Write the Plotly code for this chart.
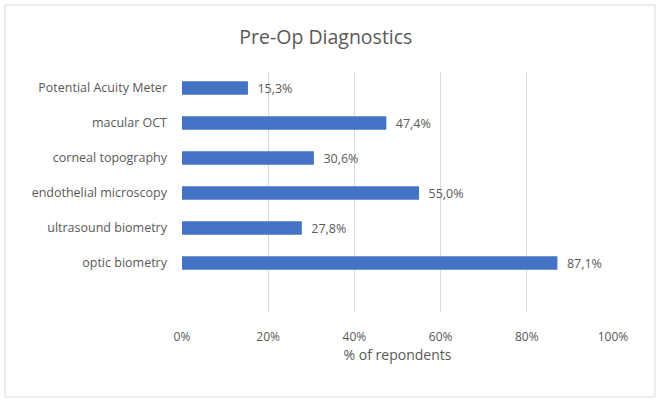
import plotly.graph_objects as go

categories = ["optic biometry", "ultrasound biometry", "endothelial microscopy",
              "corneal topography", "macular OCT", "Potential Acuity Meter"]
values = [87.1, 27.8, 55.0, 30.6, 47.4, 15.3]
tick_vals = [0, 20, 40, 60, 80, 100]
tick_text = ["0%", "20%", "40%", "60%", "80%", "100%"]
labels = ["\u00a0\u00a0" + f"{v:.1f}%".replace(".", ",") for v in values]

FONT = "'Open Sans', sans-serif"
GRAY = "#595959"

fig = go.Figure(go.Bar(
    x=values, y=categories, orientation="h",
    marker=dict(color="#4472C4", line=dict(width=0)),
    width=0.38,
    text=labels, textposition="outside", constraintext="none",
    textfont=dict(family=FONT, size=12.5, color=GRAY),
    cliponaxis=False,
))

fig.update_layout(
    width=661, height=403,
    margin=dict(l=182, r=48, t=72, b=91),
    paper_bgcolor="white", plot_bgcolor="white",
    showlegend=False,
    title=dict(text="Pre-Op Diagnostics", x=0.493, xanchor="center",
               y=0.908, yanchor="middle",
               font=dict(family=FONT, size=19.5, color=GRAY)),
    xaxis=dict(range=[0, 100], tickvals=tick_vals, ticktext=tick_text,
               showgrid=True, gridcolor="#d9d9d9", gridwidth=1,
               zeroline=False, showline=False, ticks="",
               ticklabelstandoff=16,
               tickfont=dict(family=FONT, size=12, color=GRAY),
               title=dict(text="% of repondents", standoff=6,
                          font=dict(family=FONT, size=14, color=GRAY)),
               fixedrange=True),
    yaxis=dict(type="category", categoryorder="array", categoryarray=categories,
               range=[-1.4, 5.457], showgrid=False, zeroline=False,
               showline=False, ticks="", ticklabelstandoff=14,
               tickfont=dict(family=FONT, size=12.5, color=GRAY),
               fixedrange=True),
    shapes=[dict(type="rect", xref="paper", yref="paper",
                 x0=-0.4107, x1=1.0974, y0=-0.354, y1=1.279,
                 line=dict(color="#d9d9d9", width=1), fillcolor="rgba(0,0,0,0)",
                 layer="below")],
)

fig.write_html("out.html", config={"displayModeBar": False},
               post_script="document.body.style.margin='0';document.body.style.padding='0';")
